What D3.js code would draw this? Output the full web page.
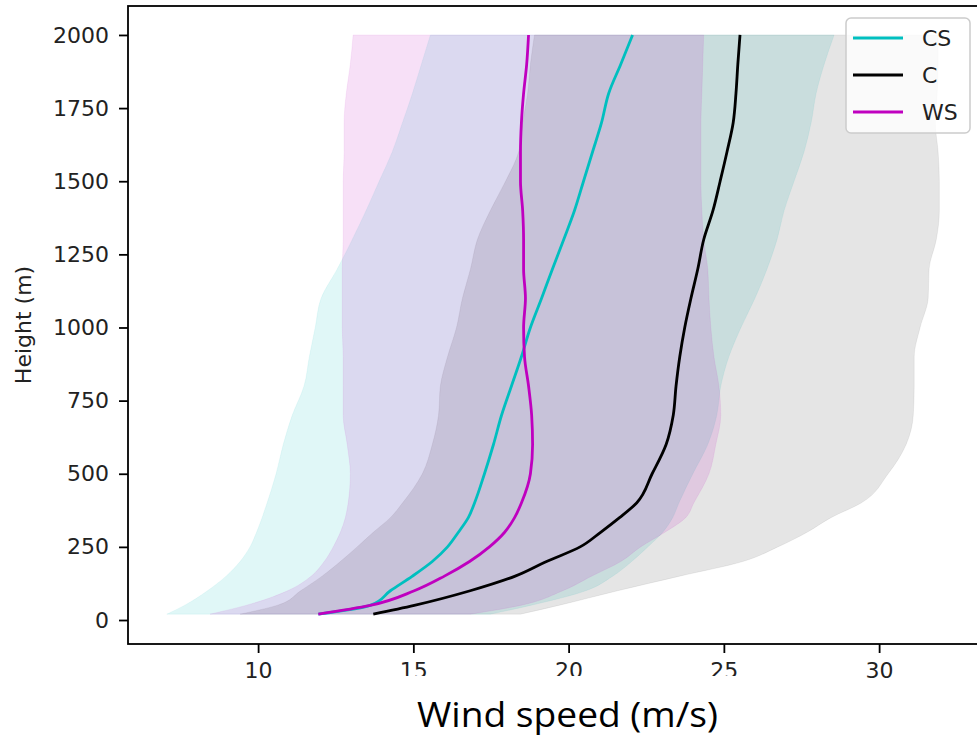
<!DOCTYPE html>
<html>
<head>
<meta charset="utf-8">
<script src="https://cdn.jsdelivr.net/npm/d3@7"></script>
<style>
  body { margin: 0; background: #fff; }
  #graf text { font-family: 'DejaVu Sans', sans-serif; }
</style>
</head>
<body>
<div id="graf"></div>
<script>
// -- Datos
alturas = [20, 50, 100, 150, 200, 250, 300, 350, 400, 500, 600, 700, 800, 900, 1000, 1100, 1200, 1300, 1400, 1500, 1600, 1700, 1800, 1900, 2000]

cs_media = [11.94, 13.61, 14.26, 14.97, 15.61, 16.10, 16.45, 16.77, 16.97, 17.29, 17.58, 17.84, 18.16, 18.48, 18.77, 19.13, 19.48, 19.84, 20.19, 20.48, 20.77, 21.06, 21.29, 21.68, 22.06]
cs_inf   = [7.06, 7.63, 8.37, 8.97, 9.42, 9.74, 9.95, 10.13, 10.29, 10.58, 10.81, 11.10, 11.48, 11.65, 11.84, 12.03, 12.55, 13.03, 13.48, 13.90, 14.32, 14.65, 14.97, 15.26, 15.55]
cs_sup   = [17.48, 18.77, 20.55, 21.42, 22.03, 22.55, 23.03, 23.35, 23.55, 24.00, 24.48, 24.77, 24.90, 25.16, 25.55, 26.00, 26.39, 26.71, 26.94, 27.26, 27.58, 27.81, 27.97, 28.23, 28.55]

c_media = [13.71, 15.03, 16.83, 18.28, 19.29, 20.37, 21.03, 21.64, 22.19, 22.69, 23.14, 23.37, 23.46, 23.58, 23.74, 23.94, 24.16, 24.35, 24.65, 24.88, 25.10, 25.30, 25.39, 25.45, 25.52]
c_inf   = [9.42, 10.61, 11.37, 12.06, 12.65, 13.19, 13.71, 14.26, 14.65, 15.29, 15.61, 15.81, 15.87, 16.10, 16.39, 16.58, 16.84, 17.06, 17.48, 17.97, 18.39, 18.52, 18.68, 18.77, 18.90]
c_sup   = [18.45, 19.68, 21.58, 23.58, 25.61, 26.74, 27.68, 28.45, 29.42, 30.29, 30.87, 31.10, 31.13, 31.13, 31.32, 31.58, 31.61, 31.84, 31.94, 31.94, 31.90, 31.81, 31.87, 31.90, 31.90]

ws_media = [11.94, 13.61, 15.03, 16.00, 16.81, 17.45, 17.94, 18.26, 18.48, 18.77, 18.84, 18.81, 18.71, 18.58, 18.55, 18.61, 18.55, 18.55, 18.52, 18.45, 18.45, 18.48, 18.55, 18.65, 18.71]
ws_inf   = [8.45, 9.61, 10.95, 11.71, 12.13, 12.42, 12.65, 12.81, 12.90, 12.97, 12.87, 12.74, 12.74, 12.74, 12.71, 12.71, 12.71, 12.74, 12.74, 12.74, 12.77, 12.77, 12.84, 12.97, 13.06]
ws_sup   = [16.84, 18.45, 19.81, 20.74, 21.68, 22.32, 23.10, 23.77, 24.03, 24.52, 24.74, 24.90, 24.84, 24.68, 24.58, 24.52, 24.48, 24.35, 24.29, 24.26, 24.26, 24.26, 24.29, 24.32, 24.35]

nombres = ['CS', 'C', 'WS']
colores = ['#00bfbf', '#000000', '#bf00bf']
xTicks = [10, 15, 20, 25, 30]
yTicks = [0, 250, 500, 750, 1000, 1250, 1500, 1750, 2000]

series = [
    {nombre: nombres[0], color: colores[0], media: cs_media, inf: cs_inf, sup: cs_sup, alfa: 0.12},
    {nombre: nombres[1], color: colores[1], media: c_media, inf: c_inf, sup: c_sup, alfa: 0.1},
    {nombre: nombres[2], color: colores[2], media: ws_media, inf: ws_inf, sup: ws_sup, alfa: 0.12}
]

// -- Configuración del canvas
ancho_total = 977
alto_total = 737
margins = {top: 6, left: 128, right: 985, bottom: 644}

svg = d3.select('#graf').append('svg')
        .attr('width', ancho_total)
        .attr('height', alto_total)

// -- Escaladores
x = d3.scaleLinear().domain([5.81, 33.41]).range([margins.left, margins.right])
y = d3.scaleLinear().domain([-82, 2099]).range([margins.bottom, margins.top])

// -- Bandas
area = d3.area()
    .y(d => y(d.h))
    .x0(d => x(d.a))
    .x1(d => x(d.b))
    .curve(d3.curveMonotoneY)

series.forEach(s => {
    let pts = alturas.map((h, i) => ({h: h, a: s.inf[i], b: s.sup[i]}))
    svg.append('path')
        .attr('d', area(pts))
        .attr('fill', s.color)
        .attr('fill-opacity', s.alfa)
        .attr('stroke', s.color)
        .attr('stroke-opacity', s.alfa * 0.6)
        .attr('stroke-width', 1)
})

// -- Líneas medias
linea = d3.line()
    .x(d => x(d.v))
    .y(d => y(d.h))
    .curve(d3.curveMonotoneY)

series.forEach(s => {
    let pts = alturas.map((h, i) => ({h: h, v: s.media[i]}))
    svg.append('path')
        .attr('d', linea(pts))
        .attr('fill', 'none')
        .attr('stroke', s.color)
        .attr('stroke-width', 2.8)
        .attr('stroke-linejoin', 'round')
})

// -- Ejes
xAxis = d3.axisBottom(x).tickValues(xTicks).tickSize(9).tickPadding(9)
yAxis = d3.axisLeft(y).tickValues(yTicks).tickSize(9).tickPadding(10).tickFormat(d3.format('d'))

gx = svg.append('g')
    .attr('transform', `translate(0,${margins.bottom})`)
    .call(xAxis)
gy = svg.append('g')
    .attr('transform', `translate(${margins.left},0)`)
    .call(yAxis)

;[gx, gy].forEach(ax => {
    ax.select('.domain').remove()
    ax.selectAll('.tick line').attr('stroke', '#000').attr('stroke-width', 1.8)
    ax.selectAll('.tick text')
        .attr('fill', '#222')
        .style('font-size', '22px')
        .style('font-family', 'DejaVu Sans')
})

// -- Marco
svg.append('rect')
    .attr('x', margins.left)
    .attr('y', margins.top)
    .attr('width', margins.right - margins.left)
    .attr('height', margins.bottom - margins.top)
    .attr('fill', 'none')
    .attr('stroke', '#000')
    .attr('stroke-width', 1.8)

// -- Etiqueta eje Y
svg.append('text')
    .attr('transform', `translate(31, ${(margins.top + margins.bottom) / 2}) rotate(-90)`)
    .attr('text-anchor', 'middle')
    .attr('fill', '#222')
    .style('font-size', '22px')
    .text('Height (m)')

// -- Caja de texto del eje X (tapa la parte baja de algunas etiquetas)
svg.append('rect')
    .attr('x', 396)
    .attr('y', 676)
    .attr('width', 348)
    .attr('height', 61)
    .attr('fill', '#fff')

svg.append('text')
    .attr('x', 417)
    .attr('y', 727)
    .attr('textLength', 301)
    .attr('lengthAdjust', 'spacingAndGlyphs')
    .attr('fill', '#000')
    .style('font-family', 'Open Sans, Noto Sans, sans-serif')
    .style('font-size', '35px')
    .text('Wind speed (m/s)')

// -- Leyenda
ley = svg.append('g').attr('transform', 'translate(846,18)')
ley.append('rect')
    .attr('width', 124)
    .attr('height', 115)
    .attr('rx', 5)
    .attr('fill', '#fff')
    .attr('fill-opacity', 0.8)
    .attr('stroke', '#ccc')
    .attr('stroke-width', 1.5)

series.forEach((s, i) => {
    let yy = 20 + i * 37
    ley.append('line')
        .attr('x1', 7).attr('x2', 57)
        .attr('y1', yy).attr('y2', yy)
        .attr('stroke', s.color)
        .attr('stroke-width', 2.8)
    ley.append('text')
        .attr('x', 76)
        .attr('y', yy)
        .attr('dy', '0.36em')
        .attr('fill', '#222')
        .style('font-size', '22px')
        .text(s.nombre)
})
</script>
</body>
</html>
